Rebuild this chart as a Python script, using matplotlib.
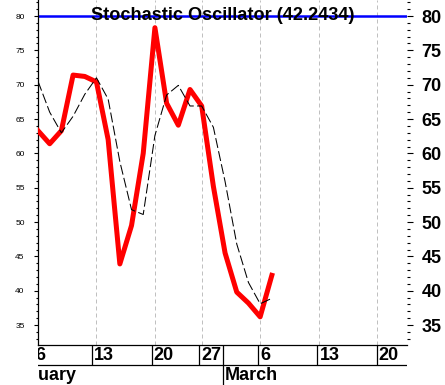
import numpy as np
import pandas as pd
import matplotlib
matplotlib.use('Agg')
from matplotlib import pyplot as plt
from matplotlib.ticker import MultipleLocator

plt.rcParams['font.family'] = ['Liberation Sans', 'DejaVu Sans']

# trading days (Presidents' Day closed)
days = pd.bdate_range('2006-02-01', '2006-03-24')
days = days[days != pd.Timestamp('2006-02-20')]
pos = {d.strftime('%Y-%m-%d'): i for i, d in enumerate(days)}

# %K (red) and %D (dashed black), one value per trading day from Feb 6 to Mar 7
series_start = '2006-02-06'
pct_k = [63.3, 61.4, 63.3, 71.4, 71.2, 70.4, 62.0, 43.9, 49.5, 60.0, 78.3,
         67.3, 64.1, 69.3, 66.9, 55.2, 45.5, 39.8, 38.2, 36.2, 42.2434]
pct_d = [70.5, 66.0, 63.0, 65.4, 68.6, 71.0, 67.9, 58.8, 51.8, 51.1, 62.6,
         68.5, 69.9, 66.9, 66.9, 63.8, 55.9, 46.8, 41.2, 38.1, 38.9]
level = 80

week_dates = ['2006-02-06', '2006-02-13', '2006-02-21', '2006-02-27',
              '2006-03-06', '2006-03-13', '2006-03-20']
week_labels = ['6', '13', '20', '27', '6', '13', '20']
month_dates = ['2006-02-01', '2006-03-01']
month_labels = ['February', 'March']

x = pos[series_start] + np.arange(len(pct_k))
xlim = (pos['2006-02-07'] - 0.58, pos['2006-03-22'] + 0.56)
wk = [pos[d] for d in week_dates]
mo = [pos[d] for d in month_dates]

W, H = 445, 385
fig = plt.figure(figsize=(W / 100, H / 100), dpi=100)
ax = fig.add_axes([38 / W, 40 / H, 369 / W, 345 / H])
ax.set_xlim(*xlim)
ax.set_ylim(32.1, 82.33)

ax.set_xticks(wk)
ax.xaxis.grid(True, color='#c0c0c0', linestyle=(0, (4, 3)), lw=0.72)
ax.tick_params(axis='x', length=0, labelbottom=False)
for s in ['top', 'right']:
    ax.spines[s].set_visible(False)
for s in ['left', 'bottom']:
    ax.spines[s].set_linewidth(0.9)

ax.yaxis.set_major_locator(MultipleLocator(5))
ax.yaxis.set_minor_locator(MultipleLocator(1))
ax.tick_params(axis='y', which='major', length=2.6, width=0.8, labelsize=6, pad=7)
ax.tick_params(axis='y', which='minor', length=1.4, width=0.8)

ax2 = ax.twinx()
ax2.set_ylim(ax.get_ylim())
for s in ax2.spines.values():
    s.set_visible(False)
ax2.yaxis.set_major_locator(MultipleLocator(5))
ax2.yaxis.set_minor_locator(MultipleLocator(1))
ax2.tick_params(axis='y', which='major', length=4.5, width=0.8, labelsize=13, pad=6)
ax2.tick_params(axis='y', which='minor', length=2.2, width=0.8)
for lab in ax2.get_yticklabels():
    lab.set_fontweight('bold')

ax.axhline(level, color='#0000ff', lw=1.8, zorder=2)
ax.plot(x, pct_k, color='#ff0000', lw=3.6, solid_joinstyle='round', zorder=3)
ax.plot(x, pct_d, color='black', lw=0.75, dashes=(9.6, 3.2), zorder=4)

ax.text(0.5, 1 - 19.5 / 345, 'Stochastic Oscillator (%.4f)' % pct_k[-1],
        transform=ax.transAxes, ha='center', va='baseline',
        fontsize=13.1, fontweight='bold', zorder=10)

# date / month strip below the chart
axd = fig.add_axes([38 / W, 0, 369 / W, 40 / H])
axd.set_xlim(*xlim)
axd.set_ylim(0, 2)
axd.axis('off')
axd.axhline(1, color='black', lw=0.9)
axd.vlines(wk, 1, 2, color='black', lw=0.9)
axd.vlines(mo, 0, 2, color='black', lw=0.9)
for p, lab in zip(wk, week_labels):
    axd.text(p + 0.17, 1.5, lab, ha='left', va='center', fontsize=13,
             fontweight='bold', clip_on=True)
for p, lab in zip(mo, month_labels):
    axd.text(p + 0.17, 0.5, lab, ha='left', va='center', fontsize=13,
             fontweight='bold', clip_on=True)

fig.savefig('out.png', dpi=100)
